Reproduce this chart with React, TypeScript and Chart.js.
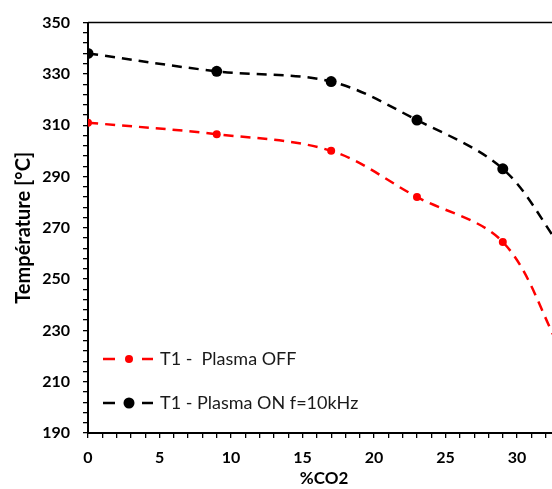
import React, { useEffect, useRef } from "react";
import { Chart, registerables } from "chart.js";

Chart.register(...registerables);

// ---- data ----
const co2Percent = [0, 9, 17, 23, 29, 33];
const plasmaOffTemp = [311, 306.5, 300, 282, 264.5, 223];
const plasmaOnTemp = [338, 331, 327, 312, 293, 263];
const seriesLabels = ["T1 -  Plasma OFF", "T1 - Plasma ON f=10kHz"];
const seriesColors = ["#ff0000", "#000000"];
const xMajorTicks = [0, 5, 10, 15, 20, 25, 30];
const yMajorTicks = [190, 210, 230, 250, 270, 290, 310, 330, 350];
const xMinorStep = 1;
const yMinorStep = 4;
const xTitle = "%CO2";
const yTitle = "Température [°C]";

const FONT = "Lato, 'Open Sans', 'Liberation Sans', sans-serif";

const frameAndLegend = {
  id: "frameAndLegend",
  afterDraw(chart: any) {
    const { ctx, chartArea } = chart;
    ctx.save();
    ctx.strokeStyle = "#000";
    ctx.lineWidth = 1.5;
    ctx.setLineDash([]);
    ctx.beginPath();
    ctx.moveTo(chartArea.left, chartArea.top);
    ctx.lineTo(chartArea.right, chartArea.top);
    ctx.lineTo(chartArea.right, chartArea.bottom);
    ctx.stroke();

    const rows = [chartArea.bottom - 74, chartArea.bottom - 30];
    chart.data.datasets.forEach((ds: any, i: number) => {
      const y = rows[i];
      const x0 = chartArea.left + 15;
      ctx.strokeStyle = ds.borderColor;
      ctx.lineWidth = 2.5;
      ctx.beginPath();
      ctx.moveTo(x0, y);
      ctx.lineTo(x0 + 12, y);
      ctx.moveTo(x0 + 39, y);
      ctx.lineTo(x0 + 50, y);
      ctx.stroke();
      ctx.fillStyle = ds.borderColor;
      ctx.beginPath();
      ctx.arc(x0 + 26, y, ds.pointRadius, 0, Math.PI * 2);
      ctx.fill();
      ctx.fillStyle = "#1a1a1a";
      ctx.font = `18px ${FONT}`;
      ctx.textBaseline = "middle";
      ctx.textAlign = "left";
      ctx.fillText(ds.label, x0 + 57, y);
    });
    ctx.restore();
  },
};

function buildTicks(min: number, max: number, step: number) {
  const t: { value: number }[] = [];
  for (let v = min; v <= max + 1e-9; v += step) t.push({ value: Math.round(v * 1000) / 1000 });
  return t;
}

export default function App() {
  const ref = useRef<HTMLCanvasElement>(null);
  useEffect(() => {
    if (!ref.current) return;
    const chart = new Chart(ref.current, {
      type: "line",
      data: {
        datasets: [
          {
            label: seriesLabels[0],
            data: co2Percent.map((x, i) => ({ x, y: plasmaOffTemp[i] })),
            borderColor: seriesColors[0],
            backgroundColor: seriesColors[0],
            borderWidth: 2.5,
            borderDash: [10, 7],
            pointRadius: 4,
            pointBorderWidth: 0,
            tension: 0.34,
            fill: false,
          },
          {
            label: seriesLabels[1],
            data: co2Percent.map((x, i) => ({ x, y: plasmaOnTemp[i] })),
            borderColor: seriesColors[1],
            backgroundColor: seriesColors[1],
            borderWidth: 2.5,
            borderDash: [10, 7],
            pointRadius: 5.5,
            pointBorderWidth: 0,
            tension: 0.34,
            fill: false,
          },
        ],
      },
      options: {
        animation: false,
        responsive: false,
        layout: { padding: { top: 18, right: 8.5, left: 0, bottom: 0 } },
        plugins: { legend: { display: false }, tooltip: { enabled: false } },
        scales: {
          x: {
            type: "linear",
            min: 0,
            max: 33,
            afterBuildTicks: (s: any) => {
              s.ticks = buildTicks(0, 33, xMinorStep);
            },
            afterFit: (s: any) => {
              s.height = 56;
            },
            ticks: {
              autoSkip: false,
              maxRotation: 0,
              padding: 10,
              color: "#000",
              font: { family: FONT, size: 16, weight: "bold" },
              callback: (v: any) => (xMajorTicks.includes(Number(v)) ? String(v) : ""),
            },
            grid: { drawOnChartArea: false, drawTicks: true, tickLength: 5, color: "#000", lineWidth: 1.3 },
            border: { display: true, color: "#000", width: 2 },
            title: {
              display: true,
              text: xTitle,
              color: "#000",
              font: { family: FONT, size: 17, weight: "bold" },
              padding: { top: 0, bottom: 0 },
            },
          },
          y: {
            type: "linear",
            min: 190,
            max: 350,
            afterBuildTicks: (s: any) => {
              s.ticks = buildTicks(190, 350, yMinorStep);
            },
            afterFit: (s: any) => {
              s.width = 88;
            },
            ticks: {
              autoSkip: false,
              padding: 13,
              color: "#000",
              font: { family: FONT, size: 16, weight: "bold" },
              callback: (v: any) => (yMajorTicks.includes(Number(v)) ? String(v) : ""),
            },
            grid: { drawOnChartArea: false, drawTicks: true, tickLength: 5, color: "#000", lineWidth: 1.3 },
            border: { display: true, color: "#000", width: 2 },
            title: {
              display: true,
              text: yTitle,
              color: "#000",
              font: { family: FONT, size: 20, weight: "bold" },
              padding: { top: 12, bottom: 0 },
            },
          },
        },
      },
      plugins: [frameAndLegend],
    });
    return () => chart.destroy();
  }, []);

  return (
    <div
      style={{
        position: "absolute",
        left: 0,
        top: 0,
        width: 552,
        height: 489,
        overflow: "hidden",
        background: "#fff",
      }}
    >
      <canvas ref={ref} width={570} height={489} style={{ display: "block" }} />
    </div>
  );
}
